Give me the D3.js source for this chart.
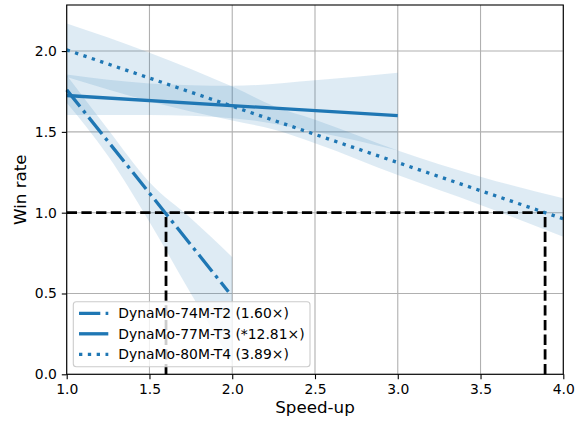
<!DOCTYPE html>
<html><head><meta charset="utf-8">
<script src="https://cdn.jsdelivr.net/npm/d3@7"></script>
<style>body{margin:0;background:#fff}svg{display:block}</style>
</head><body>
<svg id="chart" width="580" height="421"></svg>
<script>
// ---- data ----
const seriesNames = ["DynaMo-74M-T2 (1.60×)", "DynaMo-77M-T3 (*12.81×)", "DynaMo-80M-T4 (3.89×)"];
const xTicks = [1.0, 1.5, 2.0, 2.5, 3.0, 3.5, 4.0];
const yTicks = [0.0, 0.5, 1.0, 1.5, 2.0];

// fitted lines
const t2X = [1.0, 1.977], t2Y = [1.76, 0.511];
const t3X = [1.0, 3.0],   t3Y = [1.725, 1.60];
const t4X = [1.0, 4.0],   t4Y = [2.007, 0.962];

// confidence bands
const t2BandX = [1.0, 1.25, 1.5, 1.75, 2.0];
const t2Lower = [1.68, 1.35, 0.943, 0.50, 0.07];
const t2Upper = [1.85, 1.515, 1.188, 0.965, 0.725];

const t3BandX = [1.0, 1.5, 2.0, 2.5, 3.0];
const t3Lower = [1.605, 1.605, 1.585, 1.50, 1.385];
const t3Upper = [1.855, 1.80, 1.785, 1.82, 1.866];

const t4BandX = [1.0, 1.5, 2.0, 2.25, 2.5, 3.0, 3.5, 4.0];
const t4Lower = [1.84, 1.69, 1.57, 1.515, 1.43, 1.233, 1.048, 0.851];
const t4Upper = [2.17, 1.99, 1.78, 1.66, 1.575, 1.385, 1.223, 1.089];

// break-even reference (win rate = 1)
const refY = 1.0;
const refX = [1.60, 3.89];

// ---- drawing ----
const svg = d3.select("#chart");
const L = 66.7, R = 563.3, T = 5, B = 374.3;
const x = d3.scaleLinear([1, 4], [L, R]);
const y = d3.scaleLinear([0, 2.285], [B, T]);
const C0 = "#1f77b4";
const font = "'DejaVu Sans', sans-serif";
const lwPx = 3.33;

// grid
const grid = svg.append("g");
grid.selectAll(".gx").data(xTicks).join("line")
  .attr("x1", d => x(d)).attr("x2", d => x(d)).attr("y1", T).attr("y2", B)
  .attr("stroke", "#b0b0b0").attr("stroke-width", 1.1);
grid.selectAll(".gy").data(yTicks).join("line")
  .attr("x1", L).attr("x2", R).attr("y1", d => y(d)).attr("y2", d => y(d))
  .attr("stroke", "#b0b0b0").attr("stroke-width", 1.1);

// bands
const bands = [[t2BandX, t2Lower, t2Upper], [t3BandX, t3Lower, t3Upper], [t4BandX, t4Lower, t4Upper]];
const area = d3.area().x(d => x(d[0])).y0(d => y(d[1])).y1(d => y(d[2])).curve(d3.curveMonotoneX);
const plot = svg.append("g");
bands.forEach(([bx, lo, hi]) => {
  plot.append("path").datum(bx.map((v, i) => [v, lo[i], hi[i]]))
    .attr("d", area).attr("fill", C0).attr("fill-opacity", 0.15);
});

// black dashed reference lines
const dashBlack = "10.3,4.4";
plot.append("line").attr("x1", x(1.0)).attr("x2", x(refX[1])).attr("y1", y(refY)).attr("y2", y(refY))
  .attr("stroke", "#000").attr("stroke-width", 2.78).attr("stroke-dasharray", dashBlack);
refX.forEach(v => {
  plot.append("line").attr("x1", x(v)).attr("x2", x(v)).attr("y1", y(0)).attr("y2", y(refY))
    .attr("stroke", "#000").attr("stroke-width", 2.78).attr("stroke-dasharray", dashBlack);
});

// fit lines
const dashes = [
  [21.3, 5.3, 3.33, 5.3].join(","),
  null,
  [3.33, 5.5].join(",")
];
const lines = [[t2X, t2Y], [t3X, t3Y], [t4X, t4Y]];
const lineGen = d3.line().x(d => x(d[0])).y(d => y(d[1]));
lines.forEach(([lx, ly], i) => {
  const p = plot.append("path").datum(lx.map((v, j) => [v, ly[j]]))
    .attr("d", lineGen).attr("fill", "none").attr("stroke", C0).attr("stroke-width", lwPx);
  if (dashes[i]) p.attr("stroke-dasharray", dashes[i]);
});

// axes
const xAxis = svg.append("g").attr("transform", `translate(0,${B})`)
  .call(d3.axisBottom(x).tickValues(xTicks).tickFormat(d3.format(".1f")).tickSize(4.9).tickPadding(4.9));
const yAxis = svg.append("g").attr("transform", `translate(${L},0)`)
  .call(d3.axisLeft(y).tickValues(yTicks).tickFormat(d3.format(".1f")).tickSize(4.9).tickPadding(4.9));
[xAxis, yAxis].forEach(a => {
  a.select(".domain").remove();
  a.selectAll(".tick line").attr("stroke", "#000").attr("stroke-width", 1.1);
  a.selectAll(".tick text").attr("font-family", font).attr("font-size", 13.9).attr("fill", "#000");
});

// spines
svg.append("rect").attr("x", L).attr("y", T).attr("width", R - L).attr("height", B - T)
  .attr("fill", "none").attr("stroke", "#000").attr("stroke-width", 1.1);

// axis labels
svg.append("text").attr("x", (L + R) / 2).attr("y", 413).attr("text-anchor", "middle")
  .attr("font-family", font).attr("font-size", 16.7).text("Speed-up");
svg.append("text").attr("transform", `translate(26,${(T + B) / 2}) rotate(-90)`).attr("text-anchor", "middle")
  .attr("font-family", font).attr("font-size", 16.7).text("Win rate");

// legend
const lg = svg.append("g");
lg.append("rect").attr("x", 73.3).attr("y", 301.7).attr("width", 236.7).attr("height", 65)
  .attr("rx", 3).attr("fill", "#fff").attr("fill-opacity", 0.8).attr("stroke", "#cccccc").attr("stroke-width", 1.1);
seriesNames.forEach((name, i) => {
  const cy = 313.3 + i * 20.5;
  const h = lg.append("line").attr("x1", 79).attr("x2", 108.3).attr("y1", cy).attr("y2", cy)
    .attr("stroke", C0).attr("stroke-width", lwPx);
  if (dashes[i]) h.attr("stroke-dasharray", dashes[i]);
  lg.append("text").attr("x", 118.3).attr("y", cy + 5).attr("font-family", font).attr("font-size", 13.9).text(name);
});
</script>
</body></html>
